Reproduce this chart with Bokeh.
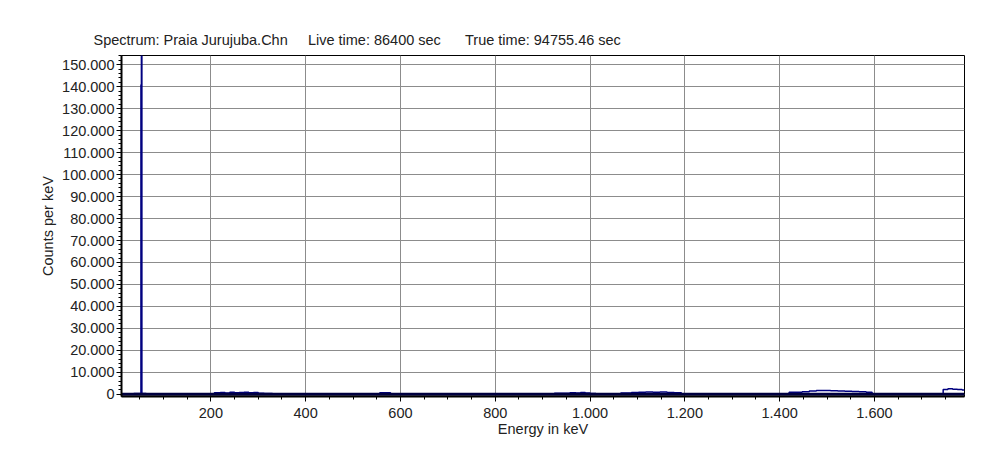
from bokeh.plotting import figure
from bokeh.models import Range1d, SingleIntervalTicker, CustomJSTickFormatter, Title
from bokeh.embed import file_html
from bokeh.resources import INLINE

# Spectrum channel energies (keV) and counts per keV
energy = [12, 30, 45, 50, 52, 53, 54, 55, 57, 70, 100, 150, 200, 215, 225, 235, 245,
          255, 265, 275, 285, 295, 305, 320, 340, 360, 400, 500, 555, 558, 600, 700,
          800, 900, 950, 965, 975, 985, 995, 1005, 1020, 1050, 1080, 1095, 1110, 1125,
          1140, 1155, 1170, 1185, 1200, 1250, 1300, 1400, 1440, 1455, 1470, 1485, 1500,
          1515, 1530, 1545, 1560, 1575, 1590, 1600, 1650, 1700, 1740, 1750, 1760, 1770,
          1780, 1790]
counts = [300, 300, 350, 400, 500, 141000, 170000, 500, 350, 300, 300, 300, 300, 700,
          800, 600, 900, 700, 800, 900, 700, 800, 500, 400, 300, 300, 300, 300, 300, 700,
          300, 300, 300, 300, 500, 700, 600, 800, 600, 400, 300, 300, 600, 800, 900, 1000,
          900, 1000, 800, 700, 300, 300, 300, 300, 900, 1200, 1500, 1700, 1700, 1600,
          1500, 1400, 1300, 1200, 900, 300, 300, 300, 300, 2200, 2500, 2300, 2200, 2000]

header_texts = ["Spectrum: Praia Jurujuba.Chn", "Live time: 86400 sec", "True time: 94755.46 sec"]
title_text = (header_texts[0] + "\u00a0" * 5 + header_texts[1] + "\u00a0" * 6 + header_texts[2])

p = figure(width=990, height=458, output_backend="svg", toolbar_location=None,
           x_range=Range1d(11.5, 1790), y_range=Range1d(-1000, 154200),
           min_border_left=121, min_border_right=26, min_border_top=55, min_border_bottom=62)

p.title = Title(text=title_text, align="left", offset=-28, standoff=16,
                text_font="Liberation Sans", text_font_size="14.5px",
                text_font_style="normal", text_color="#222222")

p.background_fill_color = "white"
p.border_fill_color = "white"
p.outline_line_color = "black"
p.outline_line_width = 1

p.step(energy, counts, mode="center", line_color="#000080", line_width=1.5)
p.line([11.5, 1790], [0, 0], line_color="#000040", line_width=3)

p.xaxis.ticker = SingleIntervalTicker(interval=200, num_minor_ticks=4)
p.yaxis.ticker = SingleIntervalTicker(interval=10000, num_minor_ticks=5)
fmt = CustomJSTickFormatter(code="return tick.toFixed(0).replace(/\\B(?=(\\d{3})+(?!\\d))/g, '.');")
p.xaxis.formatter = fmt
p.yaxis.formatter = fmt

for ax in (p.xaxis[0], p.yaxis[0]):
    ax.axis_line_color = "black"
    ax.axis_line_width = 2
    ax.major_tick_line_color = "black"
    ax.minor_tick_line_color = "black"
    ax.major_tick_out = 5
    ax.major_tick_in = 0
    ax.minor_tick_out = 3
    ax.minor_tick_in = 0
    ax.major_label_text_font = "Liberation Sans"
    ax.major_label_text_font_size = "14.5px"
    ax.major_label_text_color = "#222222"
    ax.axis_label_text_font = "Liberation Sans"
    ax.axis_label_text_font_size = "14.5px"
    ax.axis_label_text_font_style = "normal"
    ax.axis_label_text_color = "#222222"

p.xaxis.axis_label = "Energy in keV"
p.yaxis.axis_label = "Counts per keV"
p.xaxis.major_label_standoff = 6
p.yaxis.major_label_standoff = 2
p.xaxis.axis_label_standoff = 0
p.yaxis.axis_label_standoff = 3

p.xgrid.grid_line_color = "#8c8c8c"
p.ygrid.grid_line_color = "#8c8c8c"
p.xgrid.grid_line_width = 1
p.ygrid.grid_line_width = 1

open("out.html", "w").write(file_html(p, INLINE))
